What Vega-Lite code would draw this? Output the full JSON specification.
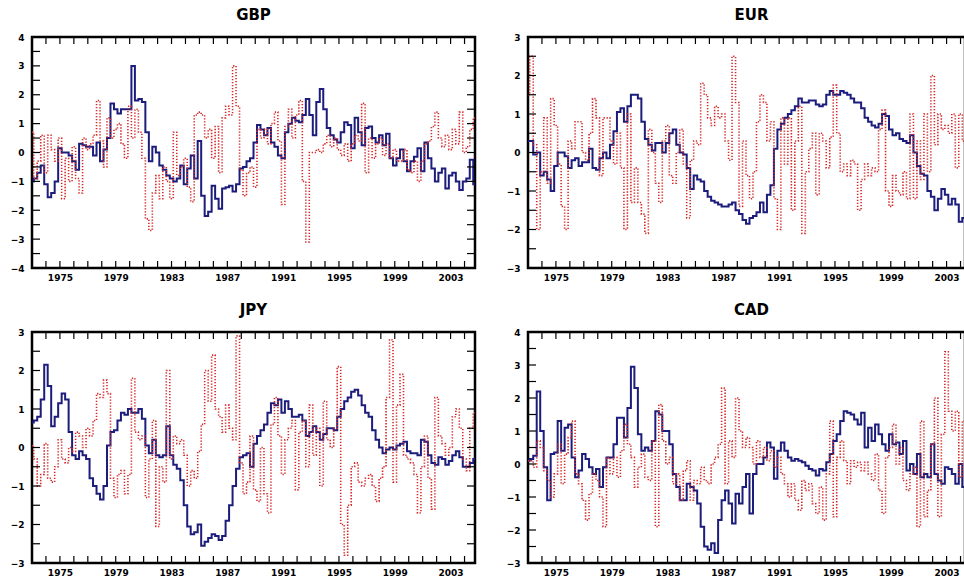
{
"$schema": "https://vega.github.io/schema/vega-lite/v6.json",
"background": "white",
"padding": {"left": 8, "top": 6, "right": 0, "bottom": 0},
"datasets": {
"yticks": [{"v":-4},{"v":-3.5},{"v":-3},{"v":-2.5},{"v":-2},{"v":-1.5},{"v":-1},{"v":-0.5},{"v":0},{"v":0.5},{"v":1},{"v":1.5},{"v":2},{"v":2.5},{"v":3},{"v":3.5},{"v":4}],
"gbp": [
{"t":1973,"b":-1,"r":0.7},{"t":1973.25,"b":-0.9,"r":-0.9},{"t":1973.5,"b":-0.7,"r":-0.3},{"t":1973.75,"b":-0.45,"r":0.6},
{"t":1974,"b":-1.1,"r":-0.7},{"t":1974.25,"b":-1.55,"r":0.6},{"t":1974.5,"b":-1.4,"r":0.1},{"t":1974.75,"b":-1,"r":-0.3},
{"t":1975,"b":0.15,"r":0.5},{"t":1975.25,"b":0,"r":-1.6},{"t":1975.5,"b":0,"r":-0.2},{"t":1975.75,"b":-0.1,"r":-1},
{"t":1976,"b":-0.3,"r":0.2},{"t":1976.25,"b":-0.6,"r":-0.9},{"t":1976.5,"b":0.3,"r":-1.4},{"t":1976.75,"b":0.25,"r":0.5},
{"t":1977,"b":0.2,"r":0.1},{"t":1977.25,"b":0.2,"r":0.3},{"t":1977.5,"b":-0.1,"r":0.6},{"t":1977.75,"b":0.35,"r":1.8},
{"t":1978,"b":-0.3,"r":0.4},{"t":1978.25,"b":0.1,"r":-0.5},{"t":1978.5,"b":0.5,"r":1.2},{"t":1978.75,"b":1.7,"r":0.5},
{"t":1979,"b":1.5,"r":0.8},{"t":1979.25,"b":1.35,"r":1},{"t":1979.5,"b":1.5,"r":0.3},{"t":1979.75,"b":1.5,"r":-0.2},
{"t":1980,"b":1.5,"r":1.6},{"t":1980.25,"b":3,"r":0.5},{"t":1980.5,"b":1.8,"r":1.5},{"t":1980.75,"b":1.85,"r":0.7},
{"t":1981,"b":1.75,"r":-0.2},{"t":1981.25,"b":0.7,"r":-2.3},{"t":1981.5,"b":-0.3,"r":-2.7},{"t":1981.75,"b":0.2,"r":-1.4},
{"t":1982,"b":0,"r":-0.8},{"t":1982.25,"b":-0.45,"r":-1.6},{"t":1982.5,"b":-0.6,"r":-0.5},{"t":1982.75,"b":-0.8,"r":-1},
{"t":1983,"b":-0.9,"r":-1.6},{"t":1983.25,"b":-1,"r":0.7},{"t":1983.5,"b":-0.9,"r":-0.8},{"t":1983.75,"b":-0.45,"r":-0.5},
{"t":1984,"b":-1.1,"r":-0.2},{"t":1984.25,"b":-0.55,"r":-1.2},{"t":1984.5,"b":-0.1,"r":-1.7},{"t":1984.75,"b":-0.9,"r":1.3},
{"t":1985,"b":0.4,"r":1.4},{"t":1985.25,"b":-1.5,"r":1.3},{"t":1985.5,"b":-2.2,"r":0.5},{"t":1985.75,"b":-2.05,"r":0.8},
{"t":1986,"b":-1.15,"r":-0.2},{"t":1986.25,"b":-1.6,"r":0.9},{"t":1986.5,"b":-1.95,"r":-0.7},{"t":1986.75,"b":-1.25,"r":1.2},
{"t":1987,"b":-1.2,"r":1.6},{"t":1987.25,"b":-1.15,"r":1.3},{"t":1987.5,"b":-1.35,"r":3},{"t":1987.75,"b":-1.1,"r":1.6},
{"t":1988,"b":-0.55,"r":-0.6},{"t":1988.25,"b":-0.5,"r":-1.5},{"t":1988.5,"b":-0.3,"r":-0.7},{"t":1988.75,"b":-0.2,"r":-0.5},
{"t":1989,"b":0.35,"r":-1.2},{"t":1989.25,"b":0.95,"r":0.8},{"t":1989.5,"b":0.8,"r":0.5},{"t":1989.75,"b":0.6,"r":0.8},
{"t":1990,"b":0.85,"r":0.3},{"t":1990.25,"b":0.35,"r":1},{"t":1990.5,"b":0.2,"r":1.4},{"t":1990.75,"b":-0.1,"r":0.4},
{"t":1991,"b":-0.2,"r":-1.8},{"t":1991.25,"b":0.7,"r":0.9},{"t":1991.5,"b":1,"r":1.5},{"t":1991.75,"b":1.2,"r":0.5},
{"t":1992,"b":1.1,"r":1.3},{"t":1992.25,"b":1.05,"r":1.8},{"t":1992.5,"b":1.3,"r":-1},{"t":1992.75,"b":1.85,"r":-3.1},
{"t":1993,"b":1.3,"r":0},{"t":1993.25,"b":0.6,"r":0},{"t":1993.5,"b":1.75,"r":0.1},{"t":1993.75,"b":2.2,"r":0},
{"t":1994,"b":1.5,"r":0.3},{"t":1994.25,"b":0.85,"r":0.6},{"t":1994.5,"b":0.6,"r":0.2},{"t":1994.75,"b":0.45,"r":0.5},
{"t":1995,"b":0.35,"r":0.1},{"t":1995.25,"b":0.7,"r":-0.1},{"t":1995.5,"b":1.05,"r":0.3},{"t":1995.75,"b":0.95,"r":-0.3},
{"t":1996,"b":0.15,"r":0.3},{"t":1996.25,"b":1.2,"r":0.6},{"t":1996.5,"b":0.7,"r":0.4},{"t":1996.75,"b":0.25,"r":1.7},
{"t":1997,"b":0.85,"r":-0.7},{"t":1997.25,"b":0.9,"r":0.5},{"t":1997.5,"b":0.5,"r":-0.2},{"t":1997.75,"b":0.35,"r":0.3},
{"t":1998,"b":0.6,"r":0.5},{"t":1998.25,"b":0.25,"r":-0.1},{"t":1998.5,"b":0.65,"r":0.3},{"t":1998.75,"b":-0.2,"r":-0.2},
{"t":1999,"b":-0.45,"r":0.1},{"t":1999.25,"b":-0.2,"r":-0.3},{"t":1999.5,"b":0.1,"r":-0.3},{"t":1999.75,"b":-0.3,"r":0.1},
{"t":2000,"b":-0.65,"r":-0.6},{"t":2000.25,"b":-0.3,"r":-0.7},{"t":2000.5,"b":-0.15,"r":-0.3},{"t":2000.75,"b":0.15,"r":-1},
{"t":2001,"b":-0.65,"r":-0.3},{"t":2001.25,"b":0.35,"r":0.3},{"t":2001.5,"b":-0.2,"r":0.4},{"t":2001.75,"b":-0.55,"r":0.9},
{"t":2002,"b":-1,"r":1.4},{"t":2002.25,"b":-0.7,"r":0.5},{"t":2002.5,"b":-0.55,"r":0.2},{"t":2002.75,"b":-1.25,"r":0.6},
{"t":2003,"b":-0.8,"r":0.1},{"t":2003.25,"b":-0.7,"r":0.8},{"t":2003.5,"b":-1,"r":0.3},{"t":2003.75,"b":-1.3,"r":1.4},
{"t":2004,"b":-1,"r":0},{"t":2004.25,"b":-0.9,"r":0.2},{"t":2004.5,"b":-0.25,"r":0.8},{"t":2004.75,"b":-1.1,"r":1.2}
],
"eur": [
{"t":1973,"b":0.3,"r":1.5},{"t":1973.25,"b":0.3,"r":2.5},{"t":1973.5,"b":-0.05,"r":0.2},{"t":1973.75,"b":0,"r":-2},
{"t":1974,"b":-0.6,"r":-0.5},{"t":1974.25,"b":-0.5,"r":0.9},{"t":1974.5,"b":-0.7,"r":-0.8},{"t":1974.75,"b":-1,"r":1.4},
{"t":1975,"b":-0.35,"r":0.7},{"t":1975.25,"b":0,"r":-0.3},{"t":1975.5,"b":0,"r":-1.4},{"t":1975.75,"b":-0.1,"r":-2},
{"t":1976,"b":-0.4,"r":0.3},{"t":1976.25,"b":-0.2,"r":0.1},{"t":1976.5,"b":-0.15,"r":0.8},{"t":1976.75,"b":-0.35,"r":0.8},
{"t":1977,"b":-0.25,"r":0},{"t":1977.25,"b":-0.25,"r":-0.2},{"t":1977.5,"b":0.1,"r":0.5},{"t":1977.75,"b":-0.4,"r":1.4},
{"t":1978,"b":-0.45,"r":0.9},{"t":1978.25,"b":-0.15,"r":-0.6},{"t":1978.5,"b":0,"r":0.9},{"t":1978.75,"b":-0.15,"r":0.9},
{"t":1979,"b":0.2,"r":0.3},{"t":1979.25,"b":0.55,"r":-0.3},{"t":1979.5,"b":1.05,"r":0.5},{"t":1979.75,"b":1.15,"r":-0.4},
{"t":1980,"b":0.8,"r":-2},{"t":1980.25,"b":1.2,"r":1},{"t":1980.5,"b":1.5,"r":-1.3},{"t":1980.75,"b":1.5,"r":-0.4},
{"t":1981,"b":1.4,"r":-1.3},{"t":1981.25,"b":0.8,"r":-1.6},{"t":1981.5,"b":0.35,"r":-2.1},{"t":1981.75,"b":0.2,"r":0.6},
{"t":1982,"b":0.05,"r":0},{"t":1982.25,"b":0.25,"r":-0.8},{"t":1982.5,"b":0.25,"r":-1.3},{"t":1982.75,"b":0,"r":0.3},
{"t":1983,"b":0.25,"r":0.7},{"t":1983.25,"b":0.5,"r":-0.6},{"t":1983.5,"b":0.6,"r":-0.8},{"t":1983.75,"b":0.2,"r":0},
{"t":1984,"b":0,"r":0.6},{"t":1984.25,"b":-0.05,"r":-0.3},{"t":1984.5,"b":-0.4,"r":-1.7},{"t":1984.75,"b":-0.95,"r":-0.2},
{"t":1985,"b":-0.6,"r":0.3},{"t":1985.25,"b":-0.7,"r":0.2},{"t":1985.5,"b":-0.75,"r":1.8},{"t":1985.75,"b":-1,"r":1.5},
{"t":1986,"b":-1.15,"r":0.9},{"t":1986.25,"b":-1.25,"r":0.7},{"t":1986.5,"b":-1.3,"r":1.2},{"t":1986.75,"b":-1.35,"r":0.9},
{"t":1987,"b":-1.4,"r":1},{"t":1987.25,"b":-1.4,"r":0.3},{"t":1987.5,"b":-1.35,"r":-0.2},{"t":1987.75,"b":-1.3,"r":2.5},
{"t":1988,"b":-1.5,"r":1.3},{"t":1988.25,"b":-1.6,"r":-1.4},{"t":1988.5,"b":-1.75,"r":0.3},{"t":1988.75,"b":-1.85,"r":-0.6},
{"t":1989,"b":-1.7,"r":-1.2},{"t":1989.25,"b":-1.65,"r":-0.5},{"t":1989.5,"b":-1.55,"r":0.8},{"t":1989.75,"b":-1.3,"r":1.5},
{"t":1990,"b":-1.55,"r":1.3},{"t":1990.25,"b":-1.1,"r":0.3},{"t":1990.5,"b":-0.85,"r":0.8},{"t":1990.75,"b":0.1,"r":-1.2},
{"t":1991,"b":0.6,"r":-2},{"t":1991.25,"b":0.75,"r":0.9},{"t":1991.5,"b":0.9,"r":-0.3},{"t":1991.75,"b":1,"r":0.9},
{"t":1992,"b":1.1,"r":-1.5},{"t":1992.25,"b":1.2,"r":0.3},{"t":1992.5,"b":1.4,"r":1.2},{"t":1992.75,"b":1.3,"r":-2.1},
{"t":1993,"b":1.3,"r":-0.5},{"t":1993.25,"b":1.35,"r":0.1},{"t":1993.5,"b":1.35,"r":0.5},{"t":1993.75,"b":1.25,"r":-1.1},
{"t":1994,"b":1.2,"r":0.5},{"t":1994.25,"b":1.25,"r":0.3},{"t":1994.5,"b":1.5,"r":-0.4},{"t":1994.75,"b":1.6,"r":0.4},
{"t":1995,"b":1.5,"r":1.75},{"t":1995.25,"b":1.5,"r":0.5},{"t":1995.5,"b":1.6,"r":-0.5},{"t":1995.75,"b":1.55,"r":-0.3},
{"t":1996,"b":1.5,"r":-0.6},{"t":1996.25,"b":1.4,"r":-0.2},{"t":1996.5,"b":1.3,"r":-0.3},{"t":1996.75,"b":1.3,"r":-1.5},
{"t":1997,"b":1.15,"r":-0.7},{"t":1997.25,"b":0.9,"r":-0.3},{"t":1997.5,"b":0.8,"r":-0.6},{"t":1997.75,"b":0.7,"r":-0.4},
{"t":1998,"b":0.65,"r":-0.5},{"t":1998.25,"b":0.75,"r":0.6},{"t":1998.5,"b":1,"r":1.1},{"t":1998.75,"b":0.95,"r":-1},
{"t":1999,"b":0.6,"r":-1.4},{"t":1999.25,"b":0.45,"r":-0.6},{"t":1999.5,"b":0.5,"r":-1},{"t":1999.75,"b":0.35,"r":-1.1},
{"t":2000,"b":0.3,"r":-0.5},{"t":2000.25,"b":0.25,"r":-1.2},{"t":2000.5,"b":0.45,"r":1},{"t":2000.75,"b":0,"r":-1.2},
{"t":2001,"b":-0.35,"r":0.3},{"t":2001.25,"b":-0.55,"r":-0.7},{"t":2001.5,"b":-0.6,"r":1},{"t":2001.75,"b":-1,"r":-0.5},
{"t":2002,"b":-1.15,"r":2},{"t":2002.25,"b":-1.5,"r":0.2},{"t":2002.5,"b":-1.2,"r":1},{"t":2002.75,"b":-0.95,"r":0.6},
{"t":2003,"b":-1.1,"r":0.7},{"t":2003.25,"b":-1.35,"r":0.5},{"t":2003.5,"b":-1.2,"r":1},{"t":2003.75,"b":-1.35,"r":-0.4},
{"t":2004,"b":-1.8,"r":1},{"t":2004.25,"b":-1.7,"r":0.3},{"t":2004.5,"b":-1.6,"r":-0.2},{"t":2004.75,"b":-1.7,"r":0.5}
],
"jpy": [
{"t":1973,"b":0.65,"r":0.05},{"t":1973.25,"b":0.7,"r":-0.3},{"t":1973.5,"b":0.8,"r":-1},{"t":1973.75,"b":1.25,"r":-0.7},
{"t":1974,"b":2.15,"r":0.1},{"t":1974.25,"b":1.6,"r":-0.8},{"t":1974.5,"b":0.55,"r":-0.9},{"t":1974.75,"b":0.8,"r":-0.5},
{"t":1975,"b":1.15,"r":0.2},{"t":1975.25,"b":1.4,"r":-0.3},{"t":1975.5,"b":1.25,"r":-0.4},{"t":1975.75,"b":0.4,"r":0},
{"t":1976,"b":-0.2,"r":-0.1},{"t":1976.25,"b":-0.3,"r":0.4},{"t":1976.5,"b":-0.1,"r":0.3},{"t":1976.75,"b":-0.2,"r":0},
{"t":1977,"b":-0.3,"r":0.5},{"t":1977.25,"b":-0.8,"r":0.3},{"t":1977.5,"b":-1,"r":0.7},{"t":1977.75,"b":-1.2,"r":1.4},
{"t":1978,"b":-1.35,"r":1.3},{"t":1978.25,"b":-1,"r":1.75},{"t":1978.5,"b":0.05,"r":1.4},{"t":1978.75,"b":0.4,"r":-0.8},
{"t":1979,"b":0.45,"r":-1.3},{"t":1979.25,"b":0.7,"r":-0.7},{"t":1979.5,"b":0.9,"r":-0.6},{"t":1979.75,"b":0.85,"r":-1.2},
{"t":1980,"b":1,"r":-0.7},{"t":1980.25,"b":0.9,"r":1.8},{"t":1980.5,"b":0.9,"r":0.4},{"t":1980.75,"b":1,"r":0.2},
{"t":1981,"b":0.75,"r":0.3},{"t":1981.25,"b":0.05,"r":-1.3},{"t":1981.5,"b":-0.15,"r":-0.3},{"t":1981.75,"b":0.2,"r":0.7},
{"t":1982,"b":-0.2,"r":-2.05},{"t":1982.25,"b":-0.25,"r":-0.5},{"t":1982.5,"b":-0.2,"r":-0.9},{"t":1982.75,"b":0.55,"r":2},
{"t":1983,"b":-0.2,"r":-0.3},{"t":1983.25,"b":-0.45,"r":0.3},{"t":1983.5,"b":-0.55,"r":0.1},{"t":1983.75,"b":-0.85,"r":0.2},
{"t":1984,"b":-1.5,"r":-0.2},{"t":1984.25,"b":-2.05,"r":-1},{"t":1984.5,"b":-2.25,"r":-0.6},{"t":1984.75,"b":-2.2,"r":-0.8},
{"t":1985,"b":-2,"r":-0.1},{"t":1985.25,"b":-2.55,"r":0.6},{"t":1985.5,"b":-2.45,"r":2},{"t":1985.75,"b":-2.35,"r":1.2},
{"t":1986,"b":-2.25,"r":2.4},{"t":1986.25,"b":-2.3,"r":1},{"t":1986.5,"b":-2.4,"r":0.8},{"t":1986.75,"b":-2.3,"r":0.4},
{"t":1987,"b":-1.9,"r":1.1},{"t":1987.25,"b":-1.5,"r":0.5},{"t":1987.5,"b":-1,"r":0.2},{"t":1987.75,"b":-0.55,"r":2.9},
{"t":1988,"b":-0.25,"r":-0.4},{"t":1988.25,"b":-0.2,"r":-1.2},{"t":1988.5,"b":-0.15,"r":-0.9},{"t":1988.75,"b":-0.5,"r":0.3},
{"t":1989,"b":0.1,"r":-1.1},{"t":1989.25,"b":0.3,"r":-1.4},{"t":1989.5,"b":0.45,"r":0},{"t":1989.75,"b":0.6,"r":-1.2},
{"t":1990,"b":0.9,"r":-1.7},{"t":1990.25,"b":1.15,"r":0.6},{"t":1990.5,"b":1.1,"r":1.3},{"t":1990.75,"b":1.25,"r":0.3},
{"t":1991,"b":0.9,"r":-0.7},{"t":1991.25,"b":1.2,"r":0.2},{"t":1991.5,"b":1,"r":0.5},{"t":1991.75,"b":0.8,"r":0.7},
{"t":1992,"b":0.8,"r":-1.1},{"t":1992.25,"b":0.85,"r":0.4},{"t":1992.5,"b":0.7,"r":0.7},{"t":1992.75,"b":0.3,"r":-0.5},
{"t":1993,"b":0.4,"r":1.1},{"t":1993.25,"b":0.55,"r":-0.2},{"t":1993.5,"b":0.4,"r":0.5},{"t":1993.75,"b":0.2,"r":-1},
{"t":1994,"b":0.35,"r":1.2},{"t":1994.25,"b":0.5,"r":0.2},{"t":1994.5,"b":0.5,"r":0},{"t":1994.75,"b":0.45,"r":0.5},
{"t":1995,"b":0.8,"r":2.1},{"t":1995.25,"b":1,"r":-2},{"t":1995.5,"b":1.2,"r":-2.8},{"t":1995.75,"b":1.3,"r":-1.5},
{"t":1996,"b":1.45,"r":-0.5},{"t":1996.25,"b":1.5,"r":-0.4},{"t":1996.5,"b":1.35,"r":-0.9},{"t":1996.75,"b":1.1,"r":-1},
{"t":1997,"b":0.9,"r":-0.8},{"t":1997.25,"b":0.8,"r":-0.7},{"t":1997.5,"b":0.45,"r":-1},{"t":1997.75,"b":0.2,"r":-1.4},
{"t":1998,"b":0,"r":-0.8},{"t":1998.25,"b":-0.15,"r":-0.5},{"t":1998.5,"b":-0.05,"r":1.3},{"t":1998.75,"b":0,"r":2.8},
{"t":1999,"b":-0.05,"r":-0.9},{"t":1999.25,"b":0.05,"r":1.1},{"t":1999.5,"b":0.1,"r":1.9},{"t":1999.75,"b":0.15,"r":-0.2},
{"t":2000,"b":-0.1,"r":-0.3},{"t":2000.25,"b":-0.15,"r":-0.4},{"t":2000.5,"b":-0.15,"r":-0.7},{"t":2000.75,"b":-0.2,"r":-1.7},
{"t":2001,"b":0.2,"r":-0.5},{"t":2001.25,"b":0.15,"r":0.3},{"t":2001.5,"b":-0.2,"r":-0.8},{"t":2001.75,"b":-0.4,"r":-1.6},
{"t":2002,"b":-0.45,"r":1.3},{"t":2002.25,"b":-0.25,"r":0.3},{"t":2002.5,"b":-0.3,"r":0.1},{"t":2002.75,"b":-0.45,"r":-0.2},
{"t":2003,"b":-0.35,"r":0},{"t":2003.25,"b":-0.2,"r":0.8},{"t":2003.5,"b":-0.1,"r":1},{"t":2003.75,"b":-0.25,"r":0.5},
{"t":2004,"b":-0.5,"r":-0.3},{"t":2004.25,"b":-0.5,"r":-0.6},{"t":2004.5,"b":-0.4,"r":0.5},{"t":2004.75,"b":-0.3,"r":0.9}
],
"cad": [
{"t":1973,"b":0.1,"r":0.1},{"t":1973.25,"b":0.15,"r":0.1},{"t":1973.5,"b":0.25,"r":-0.1},{"t":1973.75,"b":2.2,"r":0.7},
{"t":1974,"b":1,"r":0.5},{"t":1974.25,"b":-0.1,"r":-0.2},{"t":1974.5,"b":-1.1,"r":-0.5},{"t":1974.75,"b":0.3,"r":-1},
{"t":1975,"b":0.35,"r":-0.3},{"t":1975.25,"b":1.3,"r":0.6},{"t":1975.5,"b":0.4,"r":-0.6},{"t":1975.75,"b":1.1,"r":0.3},
{"t":1976,"b":1.2,"r":0.8},{"t":1976.25,"b":0.2,"r":1.3},{"t":1976.5,"b":-0.4,"r":-0.3},{"t":1976.75,"b":-0.2,"r":-0.6},
{"t":1977,"b":0.3,"r":-1.1},{"t":1977.25,"b":0.15,"r":-1.7},{"t":1977.5,"b":-0.1,"r":-0.9},{"t":1977.75,"b":-0.3,"r":-0.3},
{"t":1978,"b":-0.15,"r":-0.5},{"t":1978.25,"b":-0.7,"r":-1},{"t":1978.5,"b":-0.1,"r":-1.9},{"t":1978.75,"b":0.2,"r":0.2},
{"t":1979,"b":0.2,"r":-0.3},{"t":1979.25,"b":0.6,"r":0.2},{"t":1979.5,"b":1.4,"r":-0.4},{"t":1979.75,"b":1.4,"r":0.4},
{"t":1980,"b":0.8,"r":1.2},{"t":1980.25,"b":1.7,"r":0.6},{"t":1980.5,"b":2.95,"r":0.2},{"t":1980.75,"b":2.3,"r":-0.7},
{"t":1981,"b":0.9,"r":-0.1},{"t":1981.25,"b":0.4,"r":0.3},{"t":1981.5,"b":0.5,"r":-0.4},{"t":1981.75,"b":0.4,"r":-0.5},
{"t":1982,"b":0.7,"r":0.7},{"t":1982.25,"b":1.6,"r":-1.9},{"t":1982.5,"b":1.5,"r":1.8},{"t":1982.75,"b":1,"r":0.7},
{"t":1983,"b":1,"r":0},{"t":1983.25,"b":0.6,"r":0.2},{"t":1983.5,"b":-0.3,"r":-0.6},{"t":1983.75,"b":-0.7,"r":-0.3},
{"t":1984,"b":-1.1,"r":-1.1},{"t":1984.25,"b":-1.1,"r":-0.2},{"t":1984.5,"b":-0.6,"r":0.1},{"t":1984.75,"b":-0.7,"r":-1.1},
{"t":1985,"b":-0.8,"r":-0.5},{"t":1985.25,"b":-1.2,"r":-0.6},{"t":1985.5,"b":-1.9,"r":-0.1},{"t":1985.75,"b":-2.5,"r":-0.5},
{"t":1986,"b":-2.6,"r":-0.6},{"t":1986.25,"b":-2.4,"r":0},{"t":1986.5,"b":-2.7,"r":0.2},{"t":1986.75,"b":-1.7,"r":0.6},
{"t":1987,"b":-1.1,"r":2.3},{"t":1987.25,"b":-0.8,"r":-0.6},{"t":1987.5,"b":-1.2,"r":0.7},{"t":1987.75,"b":-1.8,"r":0.2},
{"t":1988,"b":-0.9,"r":2},{"t":1988.25,"b":-1.2,"r":1},{"t":1988.5,"b":-0.7,"r":0.5},{"t":1988.75,"b":-0.3,"r":0.8},
{"t":1989,"b":-1.5,"r":0.5},{"t":1989.25,"b":-0.3,"r":0},{"t":1989.5,"b":0,"r":0.7},{"t":1989.75,"b":0,"r":0.2},
{"t":1990,"b":0.2,"r":0.5},{"t":1990.25,"b":0.65,"r":0.1},{"t":1990.5,"b":0.5,"r":0.4},{"t":1990.75,"b":-0.45,"r":-0.1},
{"t":1991,"b":0.4,"r":0.2},{"t":1991.25,"b":0.65,"r":-0.3},{"t":1991.5,"b":0.4,"r":-0.6},{"t":1991.75,"b":0.2,"r":-1},
{"t":1992,"b":0.1,"r":-0.6},{"t":1992.25,"b":0.15,"r":-1.1},{"t":1992.5,"b":0.1,"r":-1.4},{"t":1992.75,"b":0.05,"r":-0.5},
{"t":1993,"b":-0.05,"r":-0.8},{"t":1993.25,"b":-0.15,"r":-0.6},{"t":1993.5,"b":-0.2,"r":-1.2},{"t":1993.75,"b":-0.35,"r":-1.5},
{"t":1994,"b":-0.15,"r":-0.7},{"t":1994.25,"b":-0.2,"r":-1.7},{"t":1994.5,"b":0.05,"r":-0.3},{"t":1994.75,"b":0.3,"r":1.3},
{"t":1995,"b":0.7,"r":-1.6},{"t":1995.25,"b":0.9,"r":0.2},{"t":1995.5,"b":1.3,"r":0.7},{"t":1995.75,"b":1.6,"r":0.1},
{"t":1996,"b":1.55,"r":-0.6},{"t":1996.25,"b":1.5,"r":0.1},{"t":1996.5,"b":1.35,"r":-0.1},{"t":1996.75,"b":1.2,"r":0.05},
{"t":1997,"b":1.55,"r":-0.2},{"t":1997.25,"b":0.5,"r":0.05},{"t":1997.5,"b":1.1,"r":-0.3},{"t":1997.75,"b":0.7,"r":-0.5},
{"t":1998,"b":1.2,"r":0.3},{"t":1998.25,"b":0.9,"r":-0.8},{"t":1998.5,"b":0.6,"r":-1.5},{"t":1998.75,"b":0.4,"r":0.2},
{"t":1999,"b":0.9,"r":0.5},{"t":1999.25,"b":0.6,"r":1.2},{"t":1999.5,"b":0.65,"r":0},{"t":1999.75,"b":0.3,"r":0.5},
{"t":2000,"b":0.7,"r":-0.5},{"t":2000.25,"b":-0.2,"r":-0.8},{"t":2000.5,"b":0,"r":-0.3},{"t":2000.75,"b":-0.3,"r":-0.1},
{"t":2001,"b":0.3,"r":-1.9},{"t":2001.25,"b":-0.4,"r":1.3},{"t":2001.5,"b":-0.3,"r":-1.6},{"t":2001.75,"b":-0.4,"r":-0.8},
{"t":2002,"b":0.6,"r":0.6},{"t":2002.25,"b":-0.3,"r":2},{"t":2002.5,"b":-0.5,"r":-1.6},{"t":2002.75,"b":-0.6,"r":0.9},
{"t":2003,"b":-0.1,"r":3.4},{"t":2003.25,"b":-0.15,"r":1.6},{"t":2003.5,"b":-0.3,"r":1},{"t":2003.75,"b":-0.6,"r":1.6},
{"t":2004,"b":0,"r":-0.4},{"t":2004.25,"b":-0.7,"r":1.3},{"t":2004.5,"b":-0.5,"r":0.5},{"t":2004.75,"b":-0.6,"r":-0.3}
]
},
"columns": 2,
"spacing": {"row": 64, "column": 53},
"bounds": "flush",
"concat": [
{
"title": {"text": "GBP"},
"width": 443, "height": 231,
"data": {"name": "gbp"},
"layer": [
{"mark": {"type": "line", "color": "#1c1c7c", "strokeWidth": 2, "interpolate": "step"},
 "encoding": {
  "x": {"field": "t", "type": "quantitative", "scale": {"domain": [1973, 2004.75], "nice": false, "zero": false},
        "axis": {"title": null, "values": [1975,1979,1983,1987,1991,1995,1999,2003]}},
  "y": {"field": "b", "type": "quantitative", "scale": {"domain": [-4, 4], "nice": false, "zero": false},
        "axis": {"title": null, "values": [-4,-3,-2,-1,0,1,2,3,4]}}}},
{"mark": {"type": "line", "color": "#d42a2a", "strokeWidth": 1.6, "strokeDash": [1.3, 1.7], "interpolate": "step"},
 "encoding": {
  "x": {"field": "t", "type": "quantitative", "axis": {"title": null, "values": [1975,1979,1983,1987,1991,1995,1999,2003]}},
  "y": {"field": "r", "type": "quantitative", "axis": {"title": null, "values": [-4,-3,-2,-1,0,1,2,3,4]}}}},
{"transform": [{"filter": "datum.t % 1 == 0"}],
 "mark": {"type": "point", "shape": "stroke", "angle": 90, "size": 49, "strokeWidth": 1.2, "color": "#000000", "filled": false, "opacity": 1, "yOffset": -3.5},
 "encoding": {
  "x": {"field": "t", "type": "quantitative", "axis": {"title": null, "values": [1975,1979,1983,1987,1991,1995,1999,2003]}},
  "y": {"datum": -4, "type": "quantitative", "axis": {"title": null, "values": [-4,-3,-2,-1,0,1,2,3,4]}}}},
{"transform": [{"filter": "datum.t % 1 == 0"}],
 "mark": {"type": "point", "shape": "stroke", "angle": 90, "size": 49, "strokeWidth": 1.2, "color": "#000000", "filled": false, "opacity": 1, "yOffset": 3.5},
 "encoding": {
  "x": {"field": "t", "type": "quantitative", "axis": {"title": null, "values": [1975,1979,1983,1987,1991,1995,1999,2003]}},
  "y": {"datum": 4, "type": "quantitative", "axis": {"title": null, "values": [-4,-3,-2,-1,0,1,2,3,4]}}}},
{"data": {"name": "yticks"},
 "mark": {"type": "point", "shape": "stroke", "size": 64, "strokeWidth": 1.2, "color": "#000000", "filled": false, "opacity": 1, "xOffset": 4},
 "encoding": {
  "x": {"datum": 1973, "type": "quantitative", "axis": {"title": null, "values": [1975,1979,1983,1987,1991,1995,1999,2003]}},
  "y": {"field": "v", "type": "quantitative", "axis": {"title": null, "values": [-4,-3,-2,-1,0,1,2,3,4]}}}},
{"data": {"name": "yticks"},
 "mark": {"type": "point", "shape": "stroke", "size": 64, "strokeWidth": 1.2, "color": "#000000", "filled": false, "opacity": 1, "xOffset": -4},
 "encoding": {
  "x": {"datum": 2004.75, "type": "quantitative", "axis": {"title": null, "values": [1975,1979,1983,1987,1991,1995,1999,2003]}},
  "y": {"field": "v", "type": "quantitative", "axis": {"title": null, "values": [-4,-3,-2,-1,0,1,2,3,4]}}}}
]
},
{
"title": {"text": "EUR", "dx": 5},
"width": 437, "height": 231,
"data": {"name": "eur"},
"layer": [
{"mark": {"type": "line", "color": "#1c1c7c", "strokeWidth": 2, "clip": true, "interpolate": "step"},
 "encoding": {
  "x": {"field": "t", "type": "quantitative", "scale": {"domain": [1973, 2004.32], "nice": false, "zero": false},
        "axis": {"title": null, "values": [1975,1979,1983,1987,1991,1995,1999,2003]}},
  "y": {"field": "b", "type": "quantitative", "scale": {"domain": [-3, 3], "nice": false, "zero": false},
        "axis": {"title": null, "values": [-3,-2,-1,0,1,2,3]}}}},
{"mark": {"type": "line", "color": "#d42a2a", "strokeWidth": 1.6, "strokeDash": [1.3, 1.7], "clip": true, "interpolate": "step"},
 "encoding": {
  "x": {"field": "t", "type": "quantitative", "axis": {"title": null, "values": [1975,1979,1983,1987,1991,1995,1999,2003]}},
  "y": {"field": "r", "type": "quantitative", "axis": {"title": null, "values": [-3,-2,-1,0,1,2,3]}}}},
{"transform": [{"filter": "datum.t % 1 == 0"}],
 "mark": {"type": "point", "shape": "stroke", "angle": 90, "size": 49, "strokeWidth": 1.2, "color": "#000000", "filled": false, "opacity": 1, "yOffset": -3.5},
 "encoding": {
  "x": {"field": "t", "type": "quantitative", "axis": {"title": null, "values": [1975,1979,1983,1987,1991,1995,1999,2003]}},
  "y": {"datum": -3, "type": "quantitative", "axis": {"title": null, "values": [-3,-2,-1,0,1,2,3]}}}},
{"transform": [{"filter": "datum.t % 1 == 0"}],
 "mark": {"type": "point", "shape": "stroke", "angle": 90, "size": 49, "strokeWidth": 1.2, "color": "#000000", "filled": false, "opacity": 1, "yOffset": 3.5},
 "encoding": {
  "x": {"field": "t", "type": "quantitative", "axis": {"title": null, "values": [1975,1979,1983,1987,1991,1995,1999,2003]}},
  "y": {"datum": 3, "type": "quantitative", "axis": {"title": null, "values": [-3,-2,-1,0,1,2,3]}}}},
{"data": {"name": "yticks"},
 "transform": [{"filter": "datum.v >= -3 && datum.v <= 3"}],
 "mark": {"type": "point", "shape": "stroke", "size": 64, "strokeWidth": 1.2, "color": "#000000", "filled": false, "opacity": 1, "xOffset": 4},
 "encoding": {
  "x": {"datum": 1973, "type": "quantitative", "axis": {"title": null, "values": [1975,1979,1983,1987,1991,1995,1999,2003]}},
  "y": {"field": "v", "type": "quantitative", "axis": {"title": null, "values": [-3,-2,-1,0,1,2,3]}}}}
]
},
{
"title": {"text": "JPY"},
"width": 443, "height": 231,
"data": {"name": "jpy"},
"layer": [
{"mark": {"type": "line", "color": "#1c1c7c", "strokeWidth": 2, "interpolate": "step"},
 "encoding": {
  "x": {"field": "t", "type": "quantitative", "scale": {"domain": [1973, 2004.75], "nice": false, "zero": false},
        "axis": {"title": null, "values": [1975,1979,1983,1987,1991,1995,1999,2003]}},
  "y": {"field": "b", "type": "quantitative", "scale": {"domain": [-3, 3], "nice": false, "zero": false},
        "axis": {"title": null, "values": [-3,-2,-1,0,1,2,3]}}}},
{"mark": {"type": "line", "color": "#d42a2a", "strokeWidth": 1.6, "strokeDash": [1.3, 1.7], "interpolate": "step"},
 "encoding": {
  "x": {"field": "t", "type": "quantitative", "axis": {"title": null, "values": [1975,1979,1983,1987,1991,1995,1999,2003]}},
  "y": {"field": "r", "type": "quantitative", "axis": {"title": null, "values": [-3,-2,-1,0,1,2,3]}}}},
{"transform": [{"filter": "datum.t % 1 == 0"}],
 "mark": {"type": "point", "shape": "stroke", "angle": 90, "size": 49, "strokeWidth": 1.2, "color": "#000000", "filled": false, "opacity": 1, "yOffset": -3.5},
 "encoding": {
  "x": {"field": "t", "type": "quantitative", "axis": {"title": null, "values": [1975,1979,1983,1987,1991,1995,1999,2003]}},
  "y": {"datum": -3, "type": "quantitative", "axis": {"title": null, "values": [-3,-2,-1,0,1,2,3]}}}},
{"transform": [{"filter": "datum.t % 1 == 0"}],
 "mark": {"type": "point", "shape": "stroke", "angle": 90, "size": 49, "strokeWidth": 1.2, "color": "#000000", "filled": false, "opacity": 1, "yOffset": 3.5},
 "encoding": {
  "x": {"field": "t", "type": "quantitative", "axis": {"title": null, "values": [1975,1979,1983,1987,1991,1995,1999,2003]}},
  "y": {"datum": 3, "type": "quantitative", "axis": {"title": null, "values": [-3,-2,-1,0,1,2,3]}}}},
{"data": {"name": "yticks"},
 "transform": [{"filter": "datum.v >= -3 && datum.v <= 3"}],
 "mark": {"type": "point", "shape": "stroke", "size": 64, "strokeWidth": 1.2, "color": "#000000", "filled": false, "opacity": 1, "xOffset": 4},
 "encoding": {
  "x": {"datum": 1973, "type": "quantitative", "axis": {"title": null, "values": [1975,1979,1983,1987,1991,1995,1999,2003]}},
  "y": {"field": "v", "type": "quantitative", "axis": {"title": null, "values": [-3,-2,-1,0,1,2,3]}}}},
{"data": {"name": "yticks"},
 "transform": [{"filter": "datum.v >= -3 && datum.v <= 3"}],
 "mark": {"type": "point", "shape": "stroke", "size": 64, "strokeWidth": 1.2, "color": "#000000", "filled": false, "opacity": 1, "xOffset": -4},
 "encoding": {
  "x": {"datum": 2004.75, "type": "quantitative", "axis": {"title": null, "values": [1975,1979,1983,1987,1991,1995,1999,2003]}},
  "y": {"field": "v", "type": "quantitative", "axis": {"title": null, "values": [-3,-2,-1,0,1,2,3]}}}}
]
},
{
"title": {"text": "CAD", "dx": 5},
"width": 437, "height": 231,
"data": {"name": "cad"},
"layer": [
{"mark": {"type": "line", "color": "#1c1c7c", "strokeWidth": 2, "clip": true, "interpolate": "step"},
 "encoding": {
  "x": {"field": "t", "type": "quantitative", "scale": {"domain": [1973, 2004.32], "nice": false, "zero": false},
        "axis": {"title": null, "values": [1975,1979,1983,1987,1991,1995,1999,2003]}},
  "y": {"field": "b", "type": "quantitative", "scale": {"domain": [-3, 4], "nice": false, "zero": false},
        "axis": {"title": null, "values": [-3,-2,-1,0,1,2,3,4]}}}},
{"mark": {"type": "line", "color": "#d42a2a", "strokeWidth": 1.6, "strokeDash": [1.3, 1.7], "clip": true, "interpolate": "step"},
 "encoding": {
  "x": {"field": "t", "type": "quantitative", "axis": {"title": null, "values": [1975,1979,1983,1987,1991,1995,1999,2003]}},
  "y": {"field": "r", "type": "quantitative", "axis": {"title": null, "values": [-3,-2,-1,0,1,2,3,4]}}}},
{"transform": [{"filter": "datum.t % 1 == 0"}],
 "mark": {"type": "point", "shape": "stroke", "angle": 90, "size": 49, "strokeWidth": 1.2, "color": "#000000", "filled": false, "opacity": 1, "yOffset": -3.5},
 "encoding": {
  "x": {"field": "t", "type": "quantitative", "axis": {"title": null, "values": [1975,1979,1983,1987,1991,1995,1999,2003]}},
  "y": {"datum": -3, "type": "quantitative", "axis": {"title": null, "values": [-3,-2,-1,0,1,2,3,4]}}}},
{"transform": [{"filter": "datum.t % 1 == 0"}],
 "mark": {"type": "point", "shape": "stroke", "angle": 90, "size": 49, "strokeWidth": 1.2, "color": "#000000", "filled": false, "opacity": 1, "yOffset": 3.5},
 "encoding": {
  "x": {"field": "t", "type": "quantitative", "axis": {"title": null, "values": [1975,1979,1983,1987,1991,1995,1999,2003]}},
  "y": {"datum": 4, "type": "quantitative", "axis": {"title": null, "values": [-3,-2,-1,0,1,2,3,4]}}}},
{"data": {"name": "yticks"},
 "transform": [{"filter": "datum.v >= -3"}],
 "mark": {"type": "point", "shape": "stroke", "size": 64, "strokeWidth": 1.2, "color": "#000000", "filled": false, "opacity": 1, "xOffset": 4},
 "encoding": {
  "x": {"datum": 1973, "type": "quantitative", "axis": {"title": null, "values": [1975,1979,1983,1987,1991,1995,1999,2003]}},
  "y": {"field": "v", "type": "quantitative", "axis": {"title": null, "values": [-3,-2,-1,0,1,2,3,4]}}}}
]
}
],
"config": {
  "view": {"stroke": "#000000", "strokeWidth": 2.5},
  "axis": {"grid": false, "domain": false, "ticks": false, "tickSize": 0, "format": "d",
           "labelFont": "DejaVu Sans", "labelFontSize": 9, "labelFontWeight": "bold", "labelColor": "#000000",
           "labelOverlap": false, "labelFlush": false, "labelPadding": 8},
  "axisX": {"labelPadding": 5},
  "title": {"font": "DejaVu Sans", "fontSize": 15, "fontWeight": "bold", "color": "#000000", "offset": 10, "anchor": "middle"}
}
}
